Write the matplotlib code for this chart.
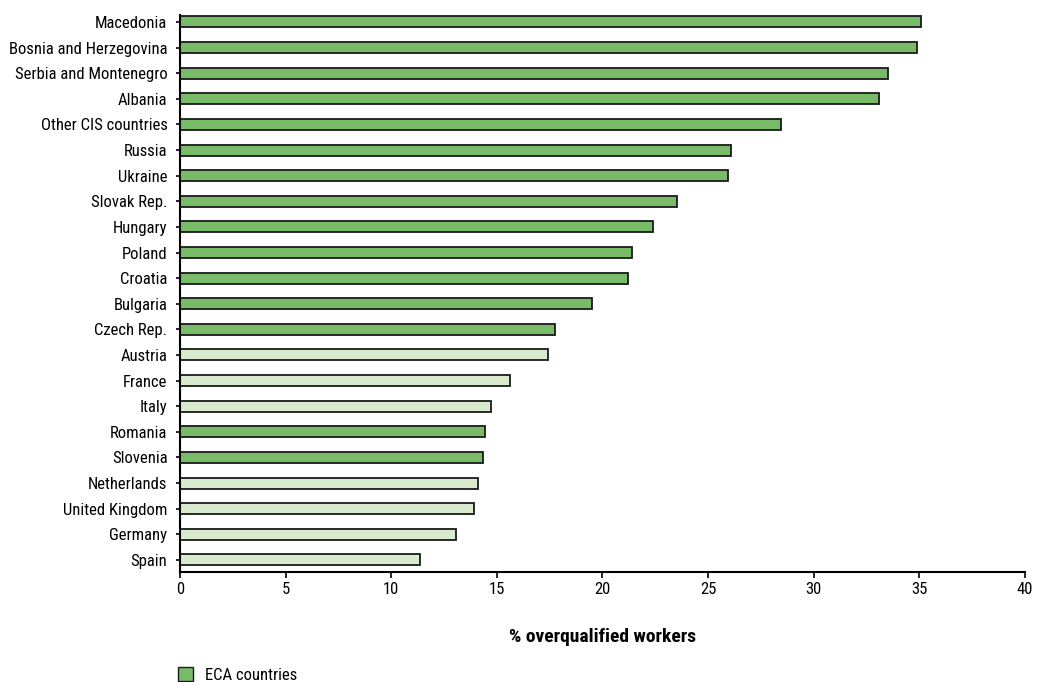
import matplotlib
matplotlib.use("Agg")
import matplotlib.pyplot as plt
from matplotlib.patches import Patch
from matplotlib import font_manager

# Prefer a narrow face, like the original chart.
names = {f.name for f in font_manager.fontManager.ttflist}
narrow = [n for n in ["Roboto Condensed", "DejaVu Sans Condensed", "Liberation Sans Narrow",
                      "Open Sans Condensed"] if n in names]
plt.rcParams['font.family'] = narrow + ['DejaVu Sans']
plt.rcParams['font.stretch'] = 'condensed'
tick_size = 12 if narrow else 9

# Countries from top to bottom.
countries = ["Macedonia", "Bosnia and Herzegovina", "Serbia and Montenegro", "Albania",
             "Other CIS countries", "Russia", "Ukraine", "Slovak Rep.", "Hungary",
             "Poland", "Croatia", "Bulgaria", "Czech Rep.", "Austria", "France",
             "Italy", "Romania", "Slovenia", "Netherlands", "United Kingdom",
             "Germany", "Spain"]
values = [35.1, 34.9, 33.5, 33.1, 28.45, 26.07, 25.93, 23.53, 22.39, 21.41, 21.22,
          19.5, 17.77, 17.43, 15.62, 14.74, 14.42, 14.32, 14.09, 13.9, 13.08, 11.36]
eca = [True, True, True, True, True, True, True, True, True, True, True, True, True,
       False, False, False, True, True, False, False, False, False]

dark_green = "#78bc6a"
light_green = "#d9eacf"

fig = plt.figure(figsize=(10.44, 6.82), dpi=100)
ax = fig.add_axes([0.1724, 0.1613, 0.8094, 0.8167])

colors = [dark_green if e else light_green for e in eca]
ax.barh(range(len(countries)), values, height=0.43, color=colors,
        edgecolor="#1a1a1a", linewidth=1.3)

ax.set_yticks(range(len(countries)))
ax.set_yticklabels(countries, fontsize=tick_size)
ax.set_ylim(len(countries) - 1 + 0.47, -0.27)
ax.set_xlim(0, 40)
ax.set_xticks(range(0, 41, 5))
ax.tick_params(axis="x", labelsize=tick_size, length=4, width=1.2, direction="out")
ax.tick_params(axis="y", length=3, width=1.2, direction="out", pad=6)

for side in ("top", "right"):
    ax.spines[side].set_visible(False)
for side in ("left", "bottom"):
    ax.spines[side].set_linewidth(1.5)

ax.set_xlabel("% overqualified workers", fontsize=tick_size + 2, fontweight="bold",
              labelpad=22)

handles = [Patch(facecolor=dark_green, edgecolor="#1a1a1a", label="ECA countries")]
fig.legend(handles=handles, loc="center left", bbox_to_anchor=(178 / 1044, 1 - 675 / 682),
           frameon=False, fontsize=tick_size, handlelength=0.9, handleheight=0.9,
           handletextpad=0.7, borderaxespad=0, borderpad=0)

fig.savefig("out.png", dpi=100)
